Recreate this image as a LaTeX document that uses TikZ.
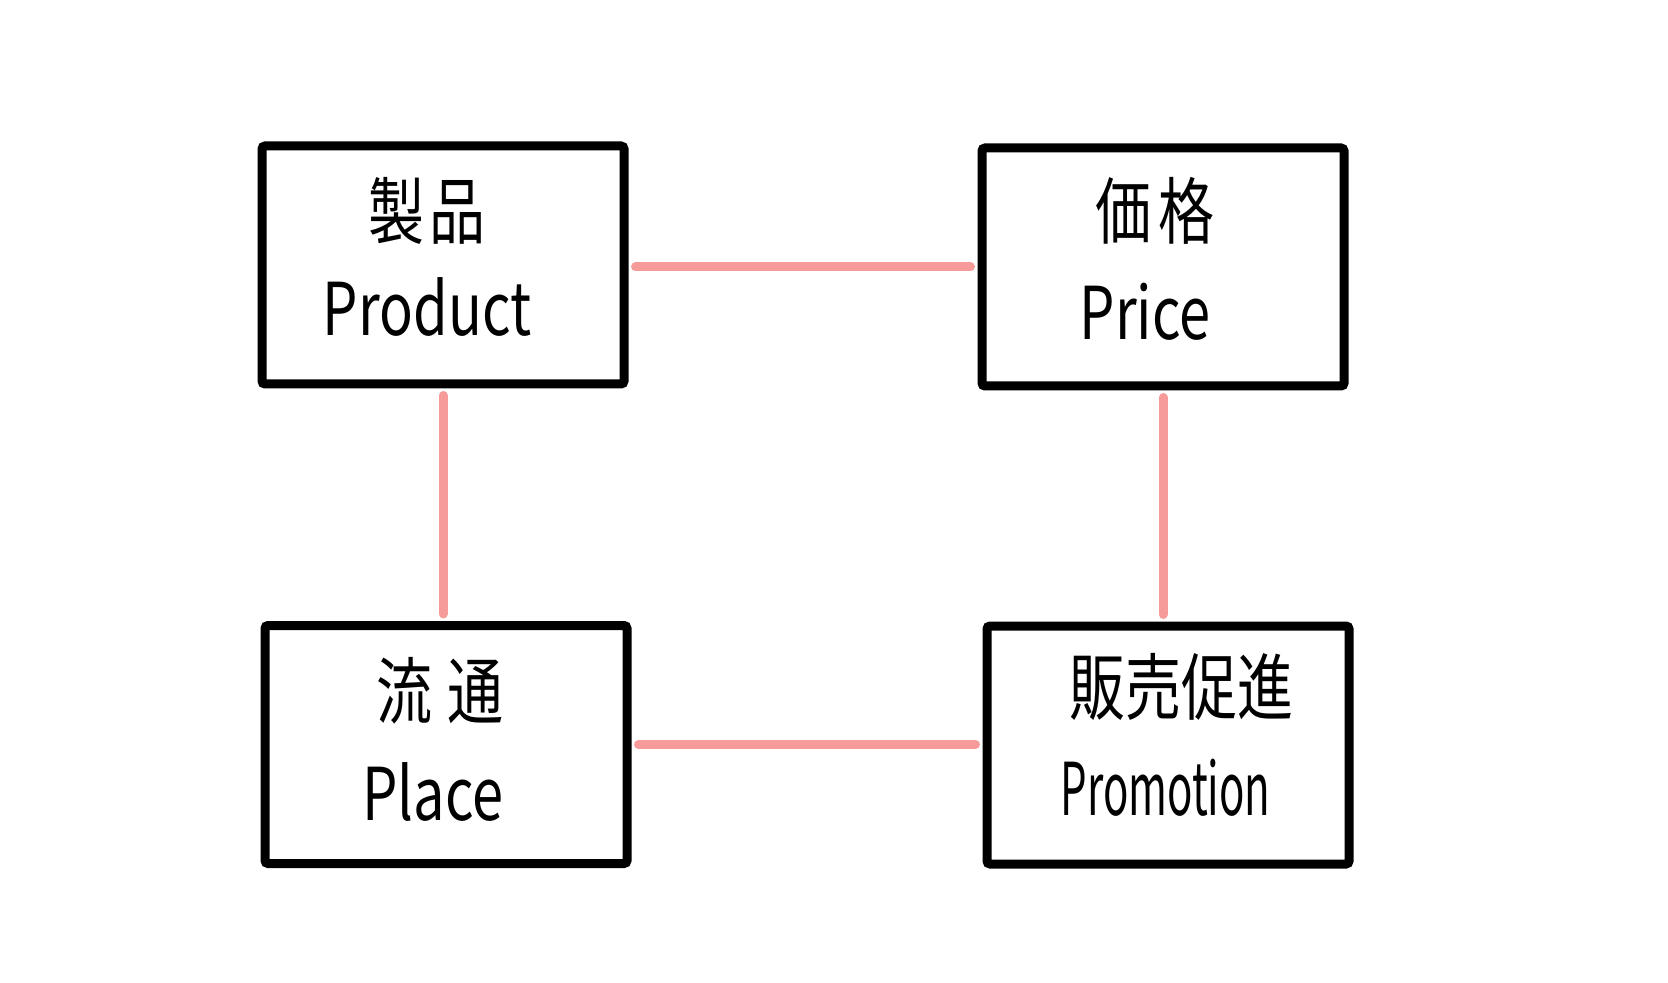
\documentclass[tikz,border=0pt]{standalone}
\usepackage{fontspec}
\usepackage{graphicx}
\setmainfont{Noto Sans CJK JP}
\usetikzlibrary{calc}
\definecolor{pinkline}{RGB}{246,154,154}
\tikzset{
  box/.style={draw=black, line width=4.5pt, rounded corners=1.5pt, fill=white,
    minimum width=181pt, minimum height=119pt, inner sep=0pt},
  lbl/.style={inner sep=0pt, font=\fontsize{28pt}{30pt}\selectfont},
  conn/.style={draw=pinkline, line width=4.5pt, line cap=round, shorten <=3.5pt, shorten >=3.5pt}
}
\newcommand{\tallt}[1]{\scalebox{1}[1.3]{#1}}
\begin{document}
\begin{tikzpicture}[x=0.5pt,y=-0.5pt]
\useasboundingbox[fill=white] (0,0) rectangle (1668,983);
\node[box] (prod)  at (443,265)   {};
\node[box] (price) at (1163,267)  {};
\node[box] (place) at (446,744.5) {};
\node[box] (promo) at (1168,745)  {};
% labels
\node[lbl] (prodj)  at (427,210.5)  {\tallt{製\hspace{3pt}品}};
\node[lbl] (prode)  at (427,307.5)  {\tallt{Product}};
\node[lbl] (pricej) at (1155,211)   {\tallt{価\hspace{4pt}格}};
\node[lbl] (pricee) at (1145,311.5) {\tallt{Price}};
\node[lbl] (placej) at (440,691)    {\tallt{流\hspace{8pt}通}};
\node[lbl] (placee) at (433,792)    {\tallt{Place}};
\node[lbl] (promoj) at (1181.5,687) {\tallt{販売促進}};
\node[lbl] (promoe) at (1165.5,787.5) {\scalebox{0.75}[1.3]{Promotion}};
% connectors
\draw[conn] (prod.east |- price.west) -- (price.west);
\draw[conn] (place.east) -- (place.east -| promo.west);
\draw[conn] (prod.south) -- (prod.south |- place.north);
\draw[conn] (price.south) -- (price.south |- promo.north);
\end{tikzpicture}
\end{document}
